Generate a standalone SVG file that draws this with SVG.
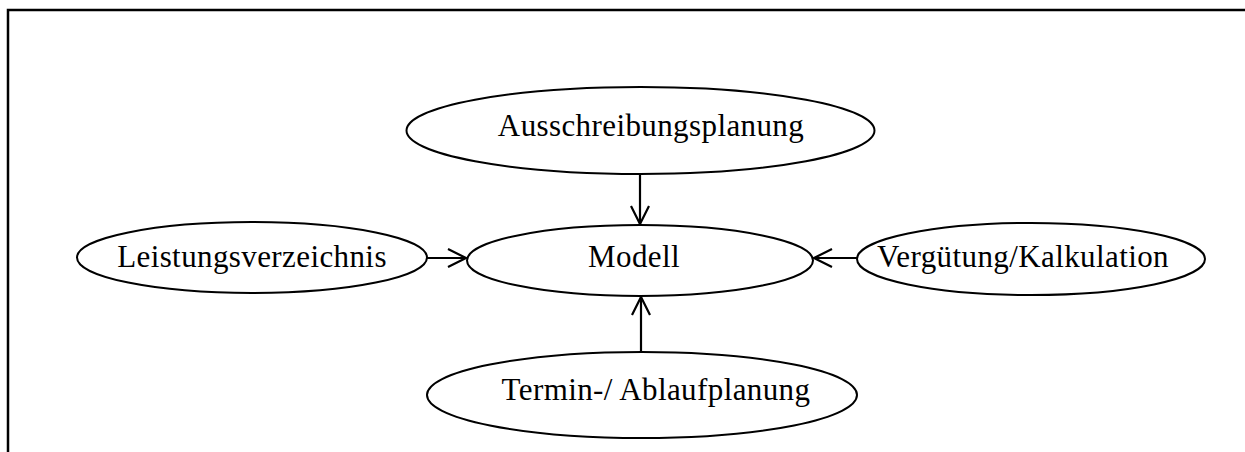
<svg xmlns="http://www.w3.org/2000/svg" width="1245" height="452" viewBox="0 0 1245 452">
  <style>
    .node ellipse { fill: #ffffff; stroke: #000000; stroke-width: 2; }
    .node text { font-family: "Liberation Serif", "Times New Roman", serif; font-size: 31px; letter-spacing: 0.4px; fill: #000000; text-anchor: middle; }
    .edge { stroke: #000000; stroke-width: 2.2; fill: none; marker-end: url(#open-arrow); }
  </style>
  <defs>
    <marker id="open-arrow" viewBox="0 0 20 20" refX="19" refY="10" markerWidth="20" markerHeight="20" markerUnits="userSpaceOnUse" orient="auto">
      <path d="M1 1 L19 10 L1 19" fill="none" stroke="#000000" stroke-width="2.2"/>
    </marker>
  </defs>
  <rect width="1245" height="452" fill="#ffffff"/>

  <!-- frame: top and left edges -->
  <path d="M8 452 L8 10 L1245 10" fill="none" stroke="#000000" stroke-width="2.5"/>

  <g id="connectors">
    <line class="edge" x1="640" y1="174" x2="640" y2="224"/>
    <line class="edge" x1="641" y1="352" x2="641" y2="297"/>
    <line class="edge" x1="427" y1="258" x2="466" y2="258"/>
    <line class="edge" x1="857" y1="258" x2="814" y2="258"/>
  </g>

  <g id="node-ausschreibungsplanung" class="node">
    <ellipse cx="640.5" cy="130.5" rx="234" ry="43.5"/>
    <text x="651" y="135.5">Ausschreibungsplanung</text>
  </g>

  <g id="node-modell" class="node">
    <ellipse cx="640" cy="260.5" rx="173" ry="35.5"/>
    <text x="634" y="267">Modell</text>
  </g>

  <g id="node-leistungsverzeichnis" class="node">
    <ellipse cx="252" cy="257.5" rx="175" ry="35.5"/>
    <text x="252" y="267">Leistungsverzeichnis</text>
  </g>

  <g id="node-verguetung" class="node">
    <ellipse cx="1031" cy="259" rx="174" ry="36"/>
    <text x="1023" y="267">Vergütung/Kalkulation</text>
  </g>

  <g id="node-termin" class="node">
    <ellipse cx="642" cy="395" rx="215" ry="43"/>
    <text x="656" y="400">Termin-/ Ablaufplanung</text>
  </g>
</svg>
